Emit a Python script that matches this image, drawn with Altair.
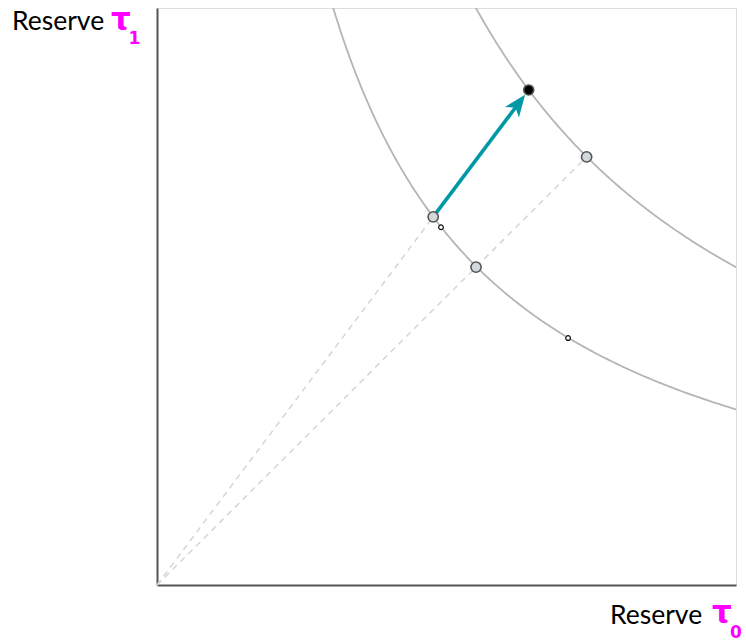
import math
import altair as alt
import pandas as pd

# Reserves of the pool before and after the deposit (tau0, tau1)
before_x, before_y = 47.7, 63.8          # starting point on the lower curve
after_x, after_y = 64.2, 85.8            # point after proportional deposit
diag_x = [55.1, 74.2]                    # equal-reserve points on each curve
diag_y = [55.1, 74.2]
small_x = [49.05, 71.0]                  # small markers on the lower curve
small_y = [62.0, 42.8]

# Constant-product invariants of the two curves
k_values = [before_x * before_y, after_x * after_y]

W, H = 579, 577
DOMAIN = [0, 100]
sx, sy = W / DOMAIN[1], H / DOMAIN[1]

xs = alt.Scale(domain=DOMAIN, nice=False, zero=True)
ys = alt.Scale(domain=DOMAIN, nice=False, zero=True)

# Invariant curves x * y = k
curve_layers = []
for k in k_values:
    c = (
        alt.Chart(alt.sequence(20, 101, 0.25, as_="x"))
        .transform_calculate(y=f"{k} / datum.x")
        .mark_line(color="#b5b5b5", strokeWidth=1.8, clip=True)
        .encode(
            x=alt.X("x:Q", scale=xs, axis=alt.Axis(domain=True, domainColor="#555555", domainWidth=2,
                                                   ticks=False, labels=False, grid=False, title=None)),
            y=alt.Y("y:Q", scale=ys, axis=alt.Axis(domain=True, domainColor="#555555", domainWidth=2,
                                                   ticks=False, labels=False, grid=False, title=None)),
        )
    )
    curve_layers.append(c)

# Dashed rays from the origin
rays = pd.DataFrame({
    "x0": [0, 0], "y0": [0, 0],
    "x1": [before_x, diag_x[1]], "y1": [before_y, diag_y[1]],
})
ray_layer = alt.Chart(rays).mark_rule(color="#d0d7db", strokeWidth=1.5, strokeDash=[6, 5]).encode(
    x=alt.X("x0:Q", scale=xs), y=alt.Y("y0:Q", scale=ys), x2="x1:Q", y2="y1:Q"
)

# Arrow from the starting point towards the deposited point
dxp = (after_x - before_x) * sx
dyp = (after_y - before_y) * sy
seg = math.hypot(dxp, dyp)
angle = math.degrees(math.atan2(dxp, dyp))
head_len = 22.0
tip_gap = 6.0
f_center = 1 - (tip_gap + head_len / 2) / seg
head_x = before_x + (after_x - before_x) * f_center
head_y = before_y + (after_y - before_y) * f_center

arrow_df = pd.DataFrame({"x0": [before_x], "y0": [before_y], "x1": [head_x], "y1": [head_y]})
arrow_line = alt.Chart(arrow_df).mark_rule(color="#0097a7", strokeWidth=3.6).encode(
    x=alt.X("x0:Q", scale=xs), y=alt.Y("y0:Q", scale=ys), x2="x1:Q", y2="y1:Q"
)
arrow_head = alt.Chart(arrow_df).mark_point(
    shape="M0,-1 L0.8,1 L0,0.45 L-0.8,1 Z",
    size=head_len ** 2, angle=angle, filled=True, color="#0097a7", opacity=1,
).encode(x=alt.X("x1:Q", scale=xs), y=alt.Y("y1:Q", scale=ys))

# Markers
gray_pts = pd.DataFrame({"x": [before_x] + diag_x, "y": [before_y] + diag_y})
gray_layer = alt.Chart(gray_pts).mark_point(
    shape="circle", size=105, filled=True, fill="#d3d8db", stroke="#555555", strokeWidth=1.6, opacity=1
).encode(x=alt.X("x:Q", scale=xs), y=alt.Y("y:Q", scale=ys))

black_layer = alt.Chart(pd.DataFrame({"x": [after_x], "y": [after_y]})).mark_point(
    shape="circle", size=100, filled=True, fill="#000000", stroke="#555555", strokeWidth=1.6, opacity=1
).encode(x=alt.X("x:Q", scale=xs), y=alt.Y("y:Q", scale=ys))

small_layer = alt.Chart(pd.DataFrame({"x": small_x, "y": small_y})).mark_point(
    shape="circle", size=22, filled=True, fill="#ffffff", stroke="#111111", strokeWidth=1.2, opacity=1
).encode(x=alt.X("x:Q", scale=xs), y=alt.Y("y:Q", scale=ys))


# Axis labels: "Reserve" plus a magenta tau with subscript
def label(text, px, py, font, size, color, weight="normal"):
    return alt.Chart(pd.DataFrame({"t": [text]})).mark_text(
        align="left", baseline="alphabetic", font=font, fontSize=size, color=color, fontWeight=weight
    ).encode(text="t:N", x=alt.value(px), y=alt.value(py))


labels = [
    label("Reserve", -145, 21.5, "Lato", 26.5, "#000000"),
    label("τ", -46, 22, "DejaVu Sans", 31, "#ff00ff", "bold"),
    label("1", -28.5, 35.5, "DejaVu Sans", 17, "#ff00ff", "bold"),
    label("Reserve", 453, 616, "Lato", 26.5, "#000000"),
    label("τ", 555, 615, "DejaVu Sans", 31, "#ff00ff", "bold"),
    label("0", 573, 630, "DejaVu Sans", 17, "#ff00ff", "bold"),
]

chart = alt.layer(
    *curve_layers, ray_layer, arrow_line, arrow_head, gray_layer, black_layer, small_layer, *labels
).properties(
    width=W, height=H,
    autosize=alt.AutoSizeParams(type="none"),
    padding={"left": 157, "top": 8, "right": 10, "bottom": 55},
).configure_view(stroke=None).configure(background="#ffffff")

chart.save("out.html", embed_options={"renderer": "svg", "actions": False})
